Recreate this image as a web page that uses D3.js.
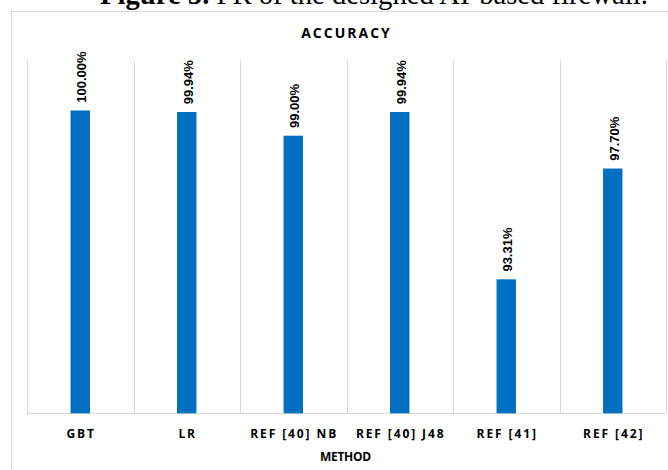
<!DOCTYPE html>
<html>
<head>
<meta charset="utf-8">
<script src="https://cdn.jsdelivr.net/npm/d3@7"></script>
<style>
  html, body { margin: 0; padding: 0; background: #ffffff; }
  svg { display: block; }
</style>
</head>
<body>
<svg id="chart" width="668" height="470"></svg>
<script>
// Accuracy per method
const categories = ["GBT", "LR", "REF [40] NB", "REF [40] J48", "REF [41]", "REF [42]"];
const accuracy = [100.00, 99.94, 99.00, 99.94, 93.31, 97.70];
const valueLabels = ["100.00%", "99.94%", "99.00%", "99.94%", "93.31%", "97.70%"];
const yDomain = [88, 102];

const chartTitle = "ACCURACY";
const xAxisTitle = "METHOD";
const captionBold = "Figure 5.";
const captionRest = " FR of the designed AI-based firewall.";

const W = 668, H = 470;
const plot = { left: 27, right: 666, top: 60, bottom: 413.3 };
const barWidth = 19.4;
const barColor = "#0070C0";
const gridColor = "#d9d9d9";

const svg = d3.select("#chart");
svg.append("rect").attr("width", W).attr("height", H).attr("fill", "#ffffff");

// Caption line of the figure (runs off the top edge)
const caption = svg.append("text")
  .attr("x", 100).attr("y", 4)
  .attr("font-family", "'Liberation Serif', 'DejaVu Serif', serif")
  .attr("font-size", 24)
  .attr("fill", "#000");
caption.append("tspan").attr("font-weight", "bold").text(captionBold);
caption.append("tspan").text(captionRest);
const capW = caption.node().getComputedTextLength();
caption.attr("font-size", 24 * 548 / capW);

// Chart area frame
svg.append("rect")
  .attr("x", 11.5).attr("y", 11.5)
  .attr("width", 700).attr("height", 500)
  .attr("fill", "none").attr("stroke", gridColor).attr("stroke-width", 1);

const x = d3.scaleBand().domain(categories).range([plot.left, plot.right]).padding(0);
const y = d3.scaleLinear().domain(yDomain).range([plot.bottom, plot.top]);

// Vertical gridlines at category boundaries
const bounds = categories.map(c => x(c)).concat([x.range()[1]]);
svg.append("g").selectAll("line").data(bounds).join("line")
  .attr("x1", d => Math.round(d) + 0.5).attr("x2", d => Math.round(d) + 0.5)
  .attr("y1", y(yDomain[1])).attr("y2", y(yDomain[0]))
  .attr("stroke", gridColor).attr("stroke-width", 1);

// Category axis line
svg.append("line")
  .attr("x1", plot.left).attr("x2", plot.right)
  .attr("y1", Math.round(y(yDomain[0])) + 0.5).attr("y2", Math.round(y(yDomain[0])) + 0.5)
  .attr("stroke", gridColor).attr("stroke-width", 1);

// Bars
const data = categories.map((c, i) => ({ c, v: accuracy[i], label: valueLabels[i] }));
svg.append("g").selectAll("rect").data(data).join("rect")
  .attr("x", d => x(d.c) + x.bandwidth() / 2 - barWidth / 2)
  .attr("width", barWidth)
  .attr("y", d => y(d.v))
  .attr("height", d => y(yDomain[0]) - y(d.v))
  .attr("fill", barColor);

// Value labels, rotated above each bar
svg.append("g").selectAll("text").data(data).join("text")
  .attr("transform", d => `translate(${x(d.c) + x.bandwidth() / 2 + 6},${y(d.v) - 7.7}) rotate(-90)`)
  .attr("font-family", "'Liberation Sans', Arial, sans-serif")
  .attr("font-weight", "bold")
  .attr("font-size", 13)
  .attr("fill", "#000")
  .text(d => d.label);

// Category labels
const ls = 1.9;
svg.append("g").selectAll("text").data(categories).join("text")
  .attr("x", d => x(d) + x.bandwidth() / 2 + ls / 2)
  .attr("y", 438.3)
  .attr("text-anchor", "middle")
  .attr("font-family", "'Open Sans', sans-serif")
  .attr("font-weight", "bold")
  .attr("font-size", 12)
  .attr("letter-spacing", ls)
  .attr("fill", "#000")
  .text(d => d);

// Chart title
svg.append("text")
  .attr("x", (plot.left + plot.right) / 2 - 1 + 1)
  .attr("y", 38.3)
  .attr("text-anchor", "middle")
  .attr("font-family", "'Open Sans', sans-serif")
  .attr("font-weight", "bold")
  .attr("font-size", 14)
  .attr("letter-spacing", 2)
  .attr("fill", "#000")
  .text(chartTitle);

// Axis title
svg.append("text")
  .attr("x", 345.4)
  .attr("y", 461)
  .attr("text-anchor", "middle")
  .attr("font-family", "'Open Sans', sans-serif")
  .attr("font-weight", "bold")
  .attr("font-size", 12)
  .attr("letter-spacing", -0.3)
  .attr("fill", "#000")
  .text(xAxisTitle);
</script>
</body>
</html>
